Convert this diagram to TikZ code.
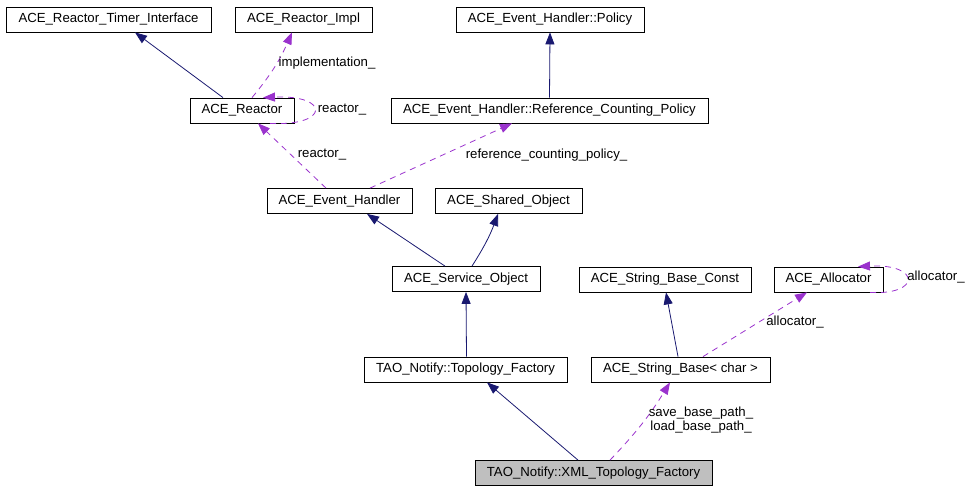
\documentclass[tikz,border=0pt]{standalone}
\usepackage{fontspec}
\setmainfont{Liberation Sans}
\usetikzlibrary{arrows.meta,calc}
\definecolor{inhcol}{HTML}{191970}
\definecolor{usecol}{HTML}{9A32CD}
\begin{document}
\begin{tikzpicture}[x=1pt,y=-1pt,
  cls/.style={draw, line width=0.8pt, minimum height=25pt, inner sep=0pt, font=\fontsize{13.2}{15}\selectfont},
  lbl/.style={inner sep=0pt, align=center, font=\fontsize{13.2}{14}\selectfont},
  inh/.style={draw=inhcol, line width=0.8pt, -{Triangle[length=12pt,width=9pt,fill=inhcol]}},
  use/.style={draw=usecol, line width=0.8pt, dash pattern=on 6pt off 5pt, -{Triangle[length=12pt,width=9pt,fill=usecol]}}]
\useasboundingbox (0,0) rectangle (971,491);
\node[cls, minimum width=205pt] (rti) at (108.5,19.5) {ACE\_Reactor\_Timer\_Interface};
\node[cls, minimum width=137pt] (rimpl) at (303.5,19.5) {ACE\_Reactor\_Impl};
\node[cls, minimum width=188pt] (policy) at (550,19.5) {ACE\_Event\_Handler::Policy};
\node[cls, minimum width=104pt] (reactor) at (242,110.5) {ACE\_Reactor};
\node[cls, minimum width=317pt] (rcp) at (549.5,110.5) {ACE\_Event\_Handler::Reference\_Counting\_Policy};
\node[cls, minimum width=145pt] (eh) at (339.5,201) {ACE\_Event\_Handler};
\node[cls, minimum width=147pt] (so) at (508.5,201) {ACE\_Shared\_Object};
\node[cls, minimum width=148pt] (svc) at (466,279) {ACE\_Service\_Object};
\node[cls, minimum width=172pt] (sbc) at (665,279.5) {ACE\_String\_Base\_Const};
\node[cls, minimum width=109pt] (alloc) at (828.5,279.5) {ACE\_Allocator};
\node[cls, minimum width=203pt] (tf) at (465.5,369.5) {TAO\_Notify::Topology\_Factory};
\node[cls, minimum width=179pt] (sb) at (680.5,369.5) {ACE\_String\_Base< char >};
\node[cls, minimum width=237pt, fill=black!25] (xml) at (593.5,473) {TAO\_Notify::XML\_Topology\_Factory};

\draw[inh] ([xshift=-19pt]reactor.north) -- ([xshift=26.5pt]rti.south);
\draw[use] ([xshift=10pt]reactor.north) to[bend right=8] ([xshift=-11.5pt]rimpl.south);
\draw[use] ([xshift=28pt]reactor.south) .. controls ($(reactor.south)+(88,3)$) and ($(reactor.north)+(88,-3)$) .. ([xshift=21pt]reactor.north);
\draw[inh] (rcp.north) -- (policy.south);
\draw[use] ([xshift=-13.5pt]eh.north) -- ([xshift=16pt]reactor.south);
\draw[use] ([xshift=30.5pt]eh.north) -- ([xshift=-37.5pt]rcp.south);
\draw[inh] ([xshift=-21pt]svc.north) -- ([xshift=27.5pt]eh.south);
\draw[inh] ([xshift=6pt]svc.north) to[bend right=6] ([xshift=-10.5pt]so.south);
\draw[inh] ([xshift=1pt]tf.north) -- (svc.south);
\draw[inh] ([xshift=-15.5pt]xml.north) -- ([xshift=21.5pt]tf.south);
\draw[use] ([xshift=16.5pt]xml.north) to[bend right=6] ([xshift=-10.5pt]sb.south);
\draw[inh] ([xshift=-2.5pt]sb.north) -- ([xshift=1pt]sbc.south);
\draw[use] ([xshift=22.5pt]sb.north) -- ([xshift=-21.5pt]alloc.south);
\draw[use] ([xshift=41.5pt]alloc.south) .. controls ($(alloc.south)+(92.5,3)$) and ($(alloc.north)+(92.5,-3)$) .. ([xshift=29.5pt]alloc.north);

\node[lbl] (limpl) at (327,63) {implementation\_};
\node[lbl] (lreact1) at (342,110) {reactor\_};
\node[lbl] (lreact2) at (322,155) {reactor\_};
\node[lbl] (lrcp) at (546.5,155) {reference\_counting\_policy\_};
\node[lbl] (lalloc1) at (795,322) {allocator\_};
\node[lbl] (lalloc2) at (936,277) {allocator\_};
\node[lbl] (lpath) at (701,420) {save\_base\_path\_\\load\_base\_path\_};
\end{tikzpicture}
\end{document}
